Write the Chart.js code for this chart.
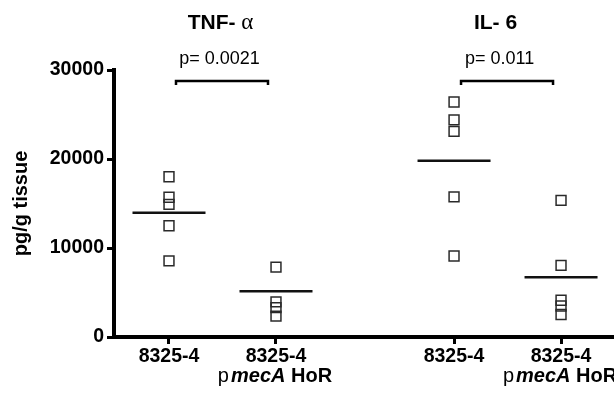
<!DOCTYPE html>
<html>
<head>
<meta charset="utf-8">
<script src="https://cdn.jsdelivr.net/npm/chart.js@4.4.1/dist/chart.umd.min.js"></script>
<style>
  html, body { margin: 0; padding: 0; background: #fff; overflow: hidden; }
  canvas { display: block; }
</style>
</head>
<body>
<canvas id="chart_cytokines" width="614" height="394"></canvas>
<script>
// values (pg/g tissue)
const categories = [['8325-4'], ['8325-4', 'pmecA HoR'], ['8325-4'], ['8325-4', 'pmecA HoR']];
const panelTitles = ['TNF- α', 'IL- 6'];
const pValues = ['p= 0.0021', 'p= 0.011'];
const tnfWildtype = [18000, 15700, 14900, 12500, 8550];
const tnfMecA = [7850, 3950, 3300, 2350];
const il6Wildtype = [26400, 24400, 23100, 15750, 9100];
const il6MecA = [15350, 8050, 4130, 3490, 2520];
const meanValues = [13950, 5150, 19800, 6700];
const yTicks = [0, 10000, 20000, 30000];

// where each column sits on the x axis (gap between the two panels)
const catPos = [1, 2, 3.664, 4.664];
const FONT = '"Liberation Sans", Arial, sans-serif';
const titleShift = [-2, -12];
const pShift = [-3, -8];

const groups = [tnfWildtype, tnfMecA, il6Wildtype, il6MecA];
const pointSets = groups.map((vals, i) => ({
    data: vals.map(v => ({x: catPos[i], y: v})),
    pointStyle: 'rect',
    pointRadius: 7,
    pointBorderWidth: 1.5,
    pointBorderColor: '#2a2a2a',
    pointBackgroundColor: 'rgba(0,0,0,0)',
    showLine: false
}));
const meanSet = {
    data: meanValues.map((v, i) => ({x: catPos[i], y: v})),
    pointStyle: 'line',
    pointRadius: 36.5,
    pointBorderWidth: 2.5,
    pointBorderColor: '#111',
    showLine: false
};

// draw differently styled pieces of text one after the other, centred on cx
function drawRuns(ctx, runs, cx, cy) {
    let total = 0;
    runs.forEach(r => { ctx.font = r.font; r.w = ctx.measureText(r.text).width + (r.gap || 0); total += r.w; });
    let xx = cx - total / 2;
    ctx.textAlign = 'left';
    runs.forEach(r => { ctx.font = r.font; ctx.fillText(r.text, xx, cy); xx += r.w; });
}

const annotations = {
    id: 'annotations',
    afterDraw(chart) {
        const {ctx, chartArea, scales: {x}} = chart;
        ctx.save();
        ctx.fillStyle = '#000';
        ctx.strokeStyle = '#000';
        ctx.textBaseline = 'middle';

        // column labels under the axis
        categories.forEach((lines, i) => {
            const cx = x.getPixelForValue(catPos[i]);
            ctx.font = 'bold 19.5px ' + FONT;
            ctx.textAlign = 'center';
            ctx.fillText(lines[0], cx, chartArea.bottom + 20);
            if (lines[1]) {
                const m = lines[1].match(/^(p)(mecA)(.*)$/);
                drawRuns(ctx, [
                    {text: m[1], font: '20px ' + FONT, gap: 2},
                    {text: m[2], font: 'italic bold 20px ' + FONT},
                    {text: m[3], font: 'bold 20px ' + FONT}
                ], cx - 1, chartArea.bottom + 39);
            }
        });

        // panel titles, p values and brackets
        panelTitles.forEach((t, g) => {
            const left = x.getPixelForValue(catPos[g * 2]);
            const right = x.getPixelForValue(catPos[g * 2 + 1]);
            const mid = (left + right) / 2;
            const parts = t.split('α');
            if (parts.length > 1) {
                drawRuns(ctx, [
                    {text: parts[0], font: 'bold 21px ' + FONT},
                    {text: 'α', font: '23px "Liberation Serif", serif'}
                ], mid + titleShift[g], 23);
            } else {
                ctx.textAlign = 'center';
                ctx.font = 'bold 21px ' + FONT;
                ctx.fillText(t, mid + titleShift[g], 23);
            }
            ctx.textAlign = 'center';
            ctx.font = '18px ' + FONT;
            ctx.fillText(pValues[g], mid + pShift[g], 59);

            const by = chartArea.top + 11;
            ctx.lineWidth = 2.5;
            ctx.beginPath();
            ctx.moveTo(left + 7, by + 4);
            ctx.lineTo(left + 7, by);
            ctx.lineTo(right - 8, by);
            ctx.lineTo(right - 8, by + 4);
            ctx.stroke();
        });
        ctx.restore();
    }
};

new Chart(document.getElementById('chart_cytokines'), {
    type: 'scatter',
    data: { datasets: [...pointSets, meanSet] },
    options: {
        responsive: false,
        animation: false,
        events: [],
        layout: { autoPadding: false, padding: { top: 70, right: 0, left: 0, bottom: 0 } },
        plugins: { legend: { display: false }, tooltip: { enabled: false } },
        scales: {
            x: {
                type: 'linear',
                min: 0.486,
                max: 5.159,
                afterBuildTicks: s => { s.ticks = catPos.map(v => ({value: v})); },
                afterFit: s => { s.height = 57; },
                ticks: { display: false },
                border: { color: '#000', width: 4 },
                grid: { drawOnChartArea: false, tickLength: 7, tickWidth: 3, color: '#000' }
            },
            y: {
                min: 0,
                max: 30000,
                afterBuildTicks: s => { s.ticks = yTicks.map(v => ({value: v})); },
                afterFit: s => { s.width = 114; },
                ticks: {
                    color: '#000',
                    padding: 3,
                    callback: v => String(v),
                    font: { family: FONT, size: 19.5, weight: 'bold' }
                },
                border: { color: '#000', width: 4 },
                grid: { drawOnChartArea: false, tickLength: 7, tickWidth: 3, color: '#000' },
                title: {
                    display: true,
                    text: 'pg/g tissue',
                    color: '#000',
                    padding: { top: 9, bottom: 0 },
                    font: { family: FONT, size: 20, weight: 'bold' }
                }
            }
        }
    },
    plugins: [annotations]
});
</script>
</body>
</html>
